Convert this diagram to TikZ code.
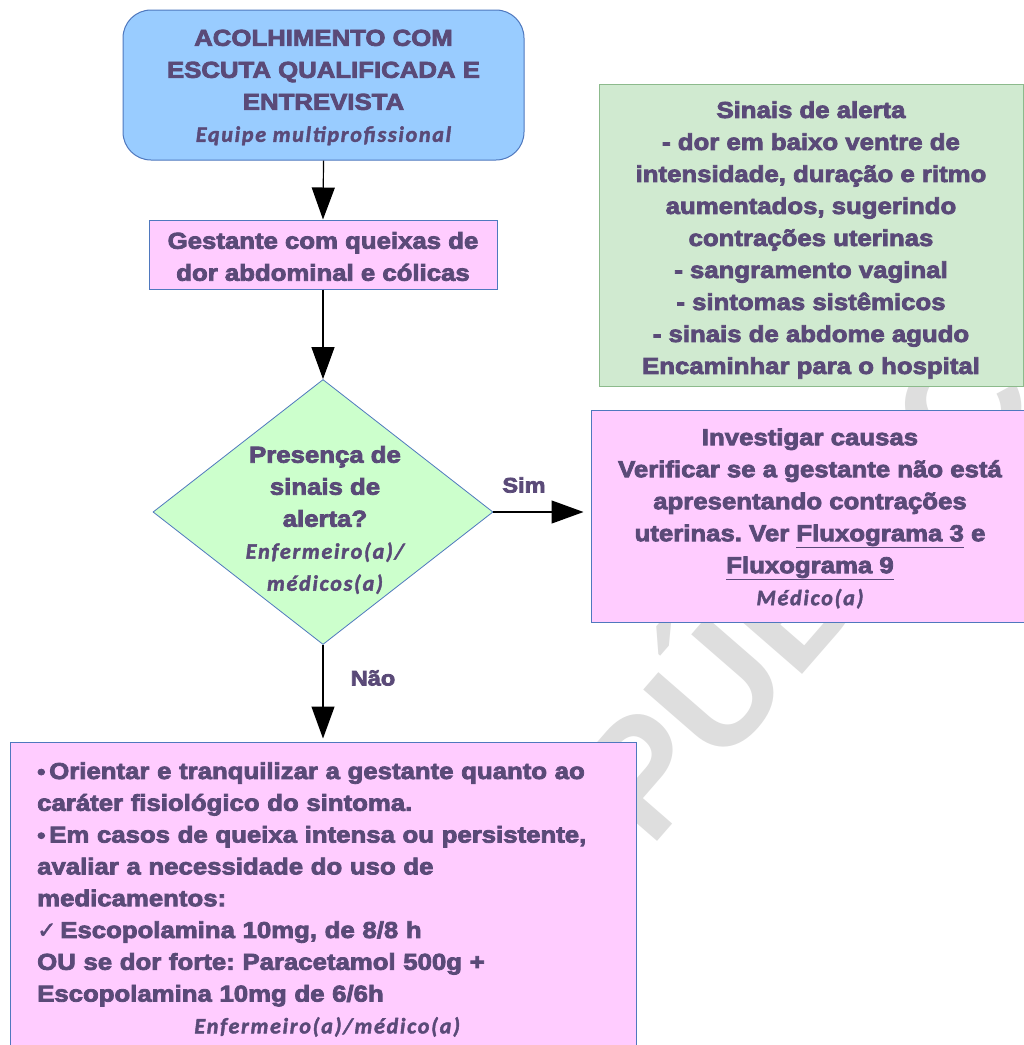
\documentclass[tikz,border=0pt]{standalone}
\usepackage{fontspec}
\usetikzlibrary{arrows.meta,shapes.geometric}
\setmainfont{Liberation Sans}
\newfontfamily\bfont[FakeStretch=1.12,FakeBold=3.5]{Liberation Sans}
\newfontfamily\ifont[LetterSpace=8,FakeBold=2]{Carlito}
\newfontfamily\symfont[FakeBold=2]{DejaVu Sans}
\newfontfamily\wmfont{Liberation Sans}
\definecolor{txt}{RGB}{90,74,120}
\definecolor{bluefill}{RGB}{153,204,255}
\definecolor{pinkfill}{RGB}{255,204,255}
\definecolor{greenfill}{RGB}{204,255,204}
\definecolor{alertfill}{RGB}{208,234,208}
\definecolor{alertline}{RGB}{140,186,140}
\definecolor{blueline}{RGB}{79,120,190}
\definecolor{wmgray}{RGB}{222,222,222}
\frenchspacing
\newcommand\itl[1]{{\ifont\bfseries\itshape\fontsize{22}{32}\selectfont #1}}
\tikzset{
  boxstyle/.style={draw=blueline, line width=1pt, inner sep=0pt},
  pinkbox/.style={boxstyle, fill=pinkfill},
  txtstyle/.style={text=txt, align=center, inner sep=0pt,
    font=\bfont\bfseries\fontsize{23}{32}\selectfont},
  lbl/.style={text=txt, font=\bfont\bfseries\fontsize{21}{25}\selectfont, inner sep=0pt},
  arr/.style={line width=1.2pt, -{Triangle[length=32pt,width=23pt]}}
}
\begin{document}
\begin{tikzpicture}[x=1pt,y=-1pt]
\useasboundingbox (0,0) rectangle (1024,1045);
\clip (0,0) rectangle (1024,1045);
\fill[white] (0,0) rectangle (1024,1045);
% watermark
\node[text=wmgray, font=\wmfont\bfseries\fontsize{160}{160}\selectfont, rotate=49, anchor=base west, inner sep=0pt] (wm) at (650,850) {PÚBLICA};
% boxes
\node[boxstyle, fill=bluefill, rounded corners=28pt, minimum width=401pt, minimum height=150pt] (top) at (323.5,85) {};
\node[txtstyle] (topT) at (323.5,87.5)
  {ACOLHIMENTO COM\\ESCUTA QUALIFICADA E\\ENTREVISTA\\\itl{Equipe multiprofissional}};
\node[pinkbox, minimum width=348pt, minimum height=69pt] (queixa) at (323,254.5) {};
\node[txtstyle] (queixaT) at (323,256.5)
  {Gestante com queixas de\\dor abdominal e cólicas};
\node[draw=blueline, line width=0.8pt, fill=greenfill, diamond, minimum width=340pt, minimum height=265pt, inner sep=0pt] (dia) at (323,512) {};
\node[txtstyle] (diaT) at (325,520)
  {Presença de\\sinais de\\alerta?\\\itl{Enfermeiro(a)/}\\\itl{médicos(a)}};
\node[boxstyle, draw=alertline, fill=alertfill, minimum width=424pt, minimum height=302pt] (alerta) at (811,235) {};
\node[txtstyle] (alertaT) at (811,240)
  {Sinais de alerta\\- dor em baixo ventre de\\intensidade, duração e ritmo\\aumentados, sugerindo\\contrações uterinas\\- sangramento vaginal\\- sintomas sistêmicos\\- sinais de abdome agudo\\Encaminhar para o hospital};
\node[pinkbox, minimum width=438pt, minimum height=212pt] (investigar) at (810,516) {};
\node[txtstyle] (investigarT) at (810,518.5)
  {Investigar causas\\Verificar se a gestante não está\\apresentando contrações\\uterinas. Ver \underline{Fluxograma 3} e\\\underline{Fluxograma 9}\\\itl{Médico(a)}};
\node[pinkbox, minimum width=626pt, minimum height=315pt] (orientar) at (323,899.5) {};
\node[text=txt, align=left, inner sep=0pt, text width=590pt, anchor=west,
  font=\bfont\bfseries\fontsize{23}{31.8}\selectfont] (orientarT) at (37,899.5)
  {{\fontsize{21}{31.8}\selectfont•}\,Orientar e tranquilizar a gestante quanto ao\\
   caráter fisiológico do sintoma.\\
   {\fontsize{21}{31.8}\selectfont•}\,Em casos de queixa intensa ou persistente,\\
   avaliar a necessidade do uso de\\
   medicamentos:\\
   {\symfont\mdseries\fontsize{23}{31.8}\selectfont ✓}\,Escopolamina 10mg, de 8/8 h\\
   OU se dor forte: Paracetamol 500g +\\
   Escopolamina 10mg de 6/6h\\
   \hbox to 580pt{\hss\itl{Enfermeiro(a)/médico(a)}\hss}};
% connectors
\draw[arr] (top.south) -- (queixa.north);
\draw[arr] (queixa.south) -- (dia.north);
\draw[arr, shorten >=7pt] (dia.east) -- (dia.east -| investigar.west);
\draw[arr, shorten >=3pt] (dia.south) -- (orientar.north);
\node[lbl] (sim) at (524,485) {Sim};
\node[lbl] (nao) at (373,678) {Não};
\end{tikzpicture}
\end{document}
